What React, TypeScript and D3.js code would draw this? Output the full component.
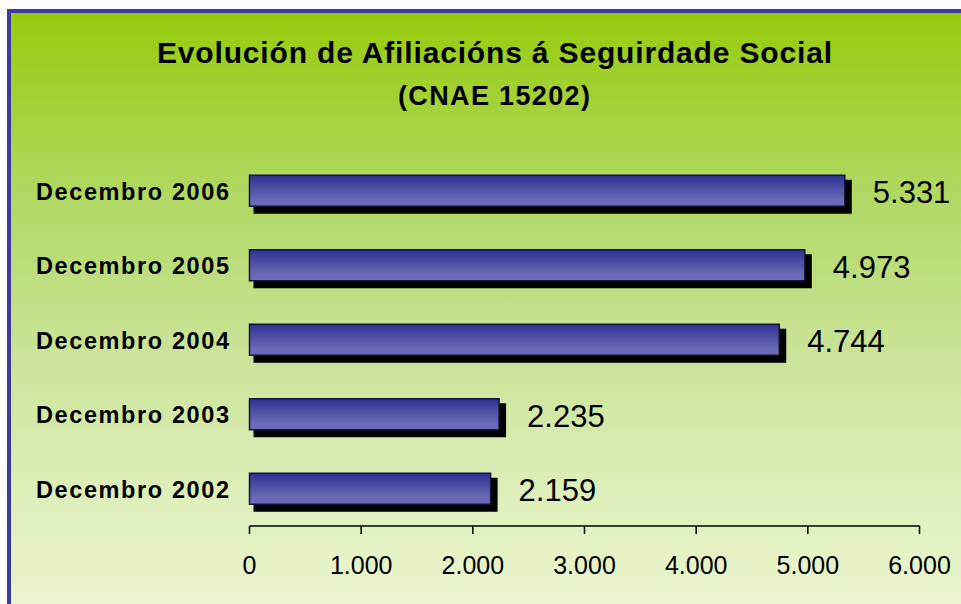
import React from "react";
import * as d3 from "d3";

const categories = ["Decembro 2006", "Decembro 2005", "Decembro 2004", "Decembro 2003", "Decembro 2002"];
const values = [5331, 4973, 4744, 2235, 2159];
const tickValues = [0, 1000, 2000, 3000, 4000, 5000, 6000];
const titleText = "Evolución de Afiliacións á Seguirdade Social";
const subtitleText = "(CNAE 15202)";

const W = 961;
const H = 604;
const FONT = "'Liberation Sans', Arial, sans-serif";

const locale = d3.formatLocale({ decimal: ",", thousands: ".", grouping: [3], currency: ["", ""] });
const fmt = locale.format(",d");

export default function App() {
  const x = d3.scaleLinear().domain([0, 6000]).range([249.5, 919.5]);
  const y = d3.scaleBand<string>().domain(categories).range([153.5, 526]).padding(0);
  const barH = 31;
  const axisY = 526;

  return (
    <svg width={W} height={H} style={{ position: "absolute", left: 0, top: 0, display: "block" }} fontFamily={FONT}>
      <defs>
        <linearGradient id="bg" gradientUnits="userSpaceOnUse" x1="0" y1="11" x2="0" y2="620">
          <stop offset="0" stopColor="#97cb0c" />
          <stop offset="0.3" stopColor="#b0d862" />
          <stop offset="0.55" stopColor="#c9e396" />
          <stop offset="0.8" stopColor="#dfefbb" />
          <stop offset="1" stopColor="#ebf6d0" />
        </linearGradient>
        <linearGradient id="bar" x1="0" y1="0" x2="0" y2="1">
          <stop offset="0" stopColor="#2e3092" />
          <stop offset="0.5" stopColor="#5555a8" />
          <stop offset="0.8" stopColor="#6a6ab8" />
          <stop offset="1" stopColor="#6c6cba" />
        </linearGradient>
      </defs>
      <rect x={0} y={0} width={W} height={H} fill="#ffffff" />
      <rect x={9} y={11} width={1000} height={700} fill="url(#bg)" stroke="#3b3ba0" strokeWidth={4} />

      <text x={494.5} y={63} textAnchor="middle" fontSize={30} fontWeight="bold" textLength={675} lengthAdjust="spacing" fill="#000">
        {titleText}
      </text>
      <text x={494} y={105} textAnchor="middle" fontSize={27} fontWeight="bold" textLength={192} lengthAdjust="spacing" fill="#000">
        {subtitleText}
      </text>

      {categories.map((c, i) => {
        const cy = (y(c) as number) + y.bandwidth() / 2;
        const top = cy - barH / 2;
        const x0 = x(0);
        const x1 = x(values[i]);
        return (
          <g key={c}>
            <rect x={x0 + 4} y={top + 4.5} width={x1 - x0 + 3} height={barH + 3} fill="#000" />
            <rect x={x0} y={top} width={x1 - x0} height={barH} fill="url(#bar)" stroke="#14143c" strokeWidth={1.5} />
            <text x={229} y={cy + 1} textAnchor="end" dominantBaseline="central" fontSize={23.5} fontWeight="bold" textLength={193} lengthAdjust="spacing" fill="#000">
              {c}
            </text>
            <text x={x1 + 28} y={cy + 2} dominantBaseline="central" fontSize={31} fill="#000">
              {fmt(values[i])}
            </text>
          </g>
        );
      })}

      <line x1={x(0)} x2={x(6000)} y1={axisY} y2={axisY} stroke="#000" strokeWidth={1.5} />
      {tickValues.map((t) => (
        <g key={t}>
          <line x1={x(t)} x2={x(t)} y1={axisY} y2={axisY + 8} stroke="#000" strokeWidth={1.5} />
          <text x={x(t)} y={565} textAnchor="middle" dominantBaseline="central" fontSize={25} fill="#000">
            {fmt(t)}
          </text>
        </g>
      ))}
    </svg>
  );
}
